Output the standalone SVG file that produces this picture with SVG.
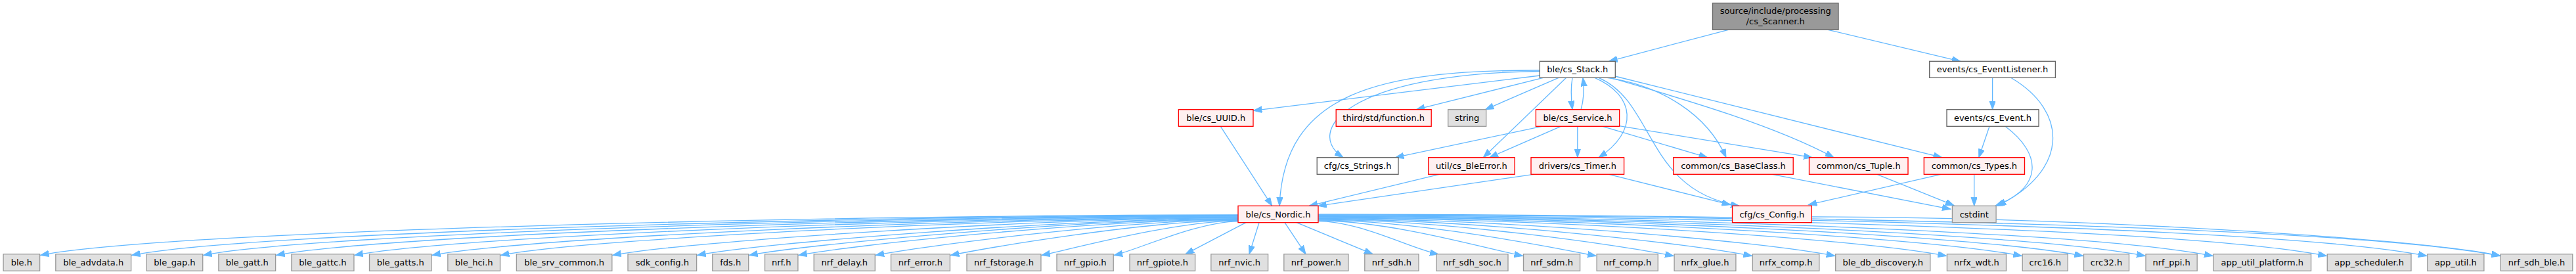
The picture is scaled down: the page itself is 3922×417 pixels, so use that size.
<svg xmlns="http://www.w3.org/2000/svg" width="3922" height="417" viewBox="0 0 3922 417">
<style>
rect{stroke-width:1.33}
.r{fill:#fff0f0;stroke:#ff0000}
.g{fill:#e0e0e0;stroke:#999999}
.w{fill:#ffffff;stroke:#666666}
.root{fill:#999999;stroke:#666666}
text{font-family:"DejaVu Sans","Liberation Sans",sans-serif;font-size:13px;fill:#000;text-anchor:middle}
#edges path{fill:none;stroke:#63b8ff;stroke-width:1.3;marker-end:url(#a)}
</style>
<defs>
<marker id="a" markerUnits="userSpaceOnUse" markerWidth="14" markerHeight="10" refX="13" refY="4.7" orient="auto"><path d="M0,0L13,4.7L0,9.4z" fill="#63b8ff" stroke="#63b8ff" stroke-width="1"/></marker>
</defs>
<rect width="3922" height="417" fill="#ffffff"/>
<g id="edges">
<path d="M2631.4,45.3L2449.6,93.3"/>
<path d="M2783.2,45.3L2984.7,93.3"/>
<path d="M2344.3,115L1908.3,168.3"/>
<path d="M2344.3,107C2100,107 1955,140 1948,313.3"/>
<path d="M2344.3,108.5C2050,112 1985,200 2045,239.7"/>
<path d="M2349.5,118.3L2156.3,166.7"/>
<path d="M2373,118.3L2261.5,166.7"/>
<path d="M2394,118.3C2391,135 2392,150 2394,166.7"/>
<path d="M2407,166.7C2412,150 2412,135 2410,118.3"/>
<path d="M2384.6,118.3L2258.3,239.7"/>
<path d="M2428,118.3C2490,145 2495,200 2434,239.7"/>
<path d="M2447,118.3C2530,130 2600,175 2628,239.7"/>
<path d="M2452,118.3C2560,150 2700,190 2792,239.7"/>
<path d="M2459,116L2956.6,239.7"/>
<path d="M2434,118.3C2520,155 2505,290 2648,313.3"/>
<path d="M2347.6,192.3L2124.4,239.7"/>
<path d="M2376.3,192.3L2267.9,239.7"/>
<path d="M2401.8,192.3L2401.8,239.7"/>
<path d="M2440,192.3L2599.5,239.7"/>
<path d="M2465.3,191.6L2759,239.7"/>
<path d="M1858.3,192.3L1936.7,313.3"/>
<path d="M2191.3,265.3L1993.3,313.3"/>
<path d="M2335,265.3L2006.7,313.3"/>
<path d="M2449.6,265.3L2634.6,311.7"/>
<path d="M2698.3,265.3L2970,318.3"/>
<path d="M2857.8,265.3L2975,312.7"/>
<path d="M2955,265.3L2753.3,311.7"/>
<path d="M3005.7,265.3L3005.7,313.3"/>
<path d="M3033.6,118.3L3033.6,166.7"/>
<path d="M3061.6,118.3C3150,170 3150,260 3041,313.3"/>
<path d="M3029,192.3L3012.8,239.7"/>
<path d="M3053,192.3C3110,235 3110,285 3038,313.3"/>
<path d="M2758.3,330C3125,330 3660.5,359.8 3806.3,389"/>
<path d="M1885,327C1301.5,327 253.9,350 61.5,388.5"/>
<path d="M1885,327.7C1346,327.7 379,352.8 200.5,388.5"/>
<path d="M1885,328.4C1380.9,328.4 477.1,355 309.6,388.5"/>
<path d="M1885,329.1C1416.4,329.1 577,357.2 420.5,388.5"/>
<path d="M1885,329.8C1454.5,329.8 684.3,359.6 539.8,388.5"/>
<path d="M1885,330.5C1492.3,330.5 790.5,362 657.8,388.5"/>
<path d="M1885,331.2C1525.8,331.2 884.7,364 762.4,388.5"/>
<path d="M1885,331.9C1580.3,331.9 1037.9,367.5 932.7,388.5"/>
<path d="M1885,332.6C1621.5,332.6 1153.9,370 1061.5,388.5"/>
<path d="M1885,333.3C1646.8,333.3 1225,371.6 1140.6,388.5"/>
<path d="M1885,334C1670.9,334 1292.7,373.1 1215.8,388.5"/>
<path d="M1885,334.7C1708.4,334.7 1398.4,375.5 1333.2,388.5"/>
<path d="M1885,335.4C1745,335.4 1501.1,377.7 1447.3,388.5"/>
<path d="M1885,336.1C1789.3,336.1 1625.7,380.5 1585.8,388.5"/>
<path d="M1885,336.8C1824.6,336.8 1725,382.7 1696.1,388.5"/>
<path d="M1897,338.7L1805,386.7"/>
<path d="M1917,338.7L1902,386.7"/>
<path d="M1956,338.7L1988,386.7"/>
<path d="M1974,338.7L2090,386.7"/>
<path d="M2007,336.7C2071,336.7 2148,378.6 2190,387"/>
<path d="M2007,335.8C2116,335.8 2261.1,378 2318.5,389.5"/>
<path d="M2007,335C2155,335 2359.2,375.3 2430,389.5"/>
<path d="M2007,334.2C2196.4,334.2 2463.1,372.5 2548,389.5"/>
<path d="M2007,333.4C2238.1,333.4 2568.2,369.7 2667.4,389.5"/>
<path d="M2007,332.6C2282.3,332.6 2679.3,366.6 2793.7,389.5"/>
<path d="M2007,331.8C2341.7,331.8 2828.6,362.5 2963.4,389.5"/>
<path d="M2007,331C2381.9,331 2929.7,359.8 3078.2,389.5"/>
<path d="M2007,330.2C2414.6,330.2 3011.8,357.6 3171.5,389.5"/>
<path d="M2007,329.4C2447.7,329.4 3094.9,355.3 3266,389.5"/>
<path d="M2007,328.6C2483.7,328.6 3185.6,352.8 3369,389.5"/>
<path d="M2007,327.8C2544.4,327.8 3338.1,348.7 3542.3,389.5"/>
<path d="M2007,327C2597.7,327 3472.3,345 3694.8,389.5"/>
<path d="M2007,326.2C2636.8,326.2 3570.4,342.3 3806.3,389.5"/>
</g>
<g id="n_scanner"><rect class="root" x="2607.5" y="4.7" width="191.5" height="40.6"/><text x="2703.2" y="21">source/include/processing</text><text x="2703.2" y="36.5">/cs_Scanner.h</text></g>
<g id="n_stack"><rect class="w" x="2344.3" y="93.3" width="115" height="25"/><text x="2401.8" y="110.3">ble/cs_Stack.h</text></g>
<g id="n_eventlistener"><rect class="w" x="2937.7" y="93.3" width="191.7" height="25"/><text x="3033.5" y="110.3">events/cs_EventListener.h</text></g>
<g id="n_uuid"><rect class="r" x="1794.4" y="166.7" width="113.6" height="25.6"/><text x="1851.2" y="184">ble/cs_UUID.h</text></g>
<g id="n_function"><rect class="r" x="2034.2" y="166.7" width="145" height="25.6"/><text x="2106.7" y="184">third/std/function.h</text></g>
<g id="n_string"><rect class="g" x="2204.7" y="166.7" width="58" height="25.6"/><text x="2233.7" y="184">string</text></g>
<g id="n_service"><rect class="r" x="2338.4" y="166.7" width="127.2" height="25.6"/><text x="2402" y="184">ble/cs_Service.h</text></g>
<g id="n_event"><rect class="w" x="2964" y="166.7" width="140" height="25.6"/><text x="3034" y="184">events/cs_Event.h</text></g>
<g id="n_strings"><rect class="w" x="2005.2" y="239.7" width="123.8" height="25.6"/><text x="2067.1" y="257">cfg/cs_Strings.h</text></g>
<g id="n_bleerror"><rect class="r" x="2174.7" y="239.7" width="131.4" height="25.6"/><text x="2240.4" y="257">util/cs_BleError.h</text></g>
<g id="n_timer"><rect class="r" x="2331" y="239.7" width="141.6" height="25.6"/><text x="2401.8" y="257">drivers/cs_Timer.h</text></g>
<g id="n_baseclass"><rect class="r" x="2547.8" y="239.7" width="182.4" height="25.6"/><text x="2639" y="257">common/cs_BaseClass.h</text></g>
<g id="n_tuple"><rect class="r" x="2754.5" y="239.7" width="150.5" height="25.6"/><text x="2829.75" y="257">common/cs_Tuple.h</text></g>
<g id="n_types"><rect class="r" x="2929.3" y="239.7" width="153.2" height="25.6"/><text x="3005.9" y="257">common/cs_Types.h</text></g>
<g id="n_nordic"><rect class="r" x="1885" y="313.3" width="122" height="25.4"/><text x="1946" y="330.5">ble/cs_Nordic.h</text></g>
<g id="n_config"><rect class="r" x="2637.5" y="313.3" width="120.8" height="25.4"/><text x="2697.9" y="330.5">cfg/cs_Config.h</text></g>
<g id="n_cstdint"><rect class="g" x="2972.4" y="313.3" width="66.7" height="25.4"/><text x="3005.75" y="330.5">cstdint</text></g>
<g id="n_ble"><rect class="g" x="5.1" y="386.7" width="55.5" height="25.6"/><text x="32.85" y="404">ble.h</text></g>
<g id="n_ble_advdata"><rect class="g" x="84.8" y="386.7" width="114.8" height="25.6"/><text x="142.2" y="404">ble_advdata.h</text></g>
<g id="n_ble_gap"><rect class="g" x="223.2" y="386.7" width="85.5" height="25.6"/><text x="265.95" y="404">ble_gap.h</text></g>
<g id="n_ble_gatt"><rect class="g" x="332.9" y="386.7" width="86.7" height="25.6"/><text x="376.25" y="404">ble_gatt.h</text></g>
<g id="n_ble_gattc"><rect class="g" x="443.9" y="386.7" width="95" height="25.6"/><text x="491.4" y="404">ble_gattc.h</text></g>
<g id="n_ble_gatts"><rect class="g" x="562.5" y="386.7" width="94.4" height="25.6"/><text x="609.7" y="404">ble_gatts.h</text></g>
<g id="n_ble_hci"><rect class="g" x="681.8" y="386.7" width="79.7" height="25.6"/><text x="721.65" y="404">ble_hci.h</text></g>
<g id="n_ble_srv_common"><rect class="g" x="786.4" y="386.7" width="145.4" height="25.6"/><text x="859.1" y="404">ble_srv_common.h</text></g>
<g id="n_sdk_config"><rect class="g" x="956" y="386.7" width="104.6" height="25.6"/><text x="1008.3" y="404">sdk_config.h</text></g>
<g id="n_fds"><rect class="g" x="1084.8" y="386.7" width="54.9" height="25.6"/><text x="1112.25" y="404">fds.h</text></g>
<g id="n_nrf"><rect class="g" x="1164.5" y="386.7" width="50.4" height="25.6"/><text x="1189.7" y="404">nrf.h</text></g>
<g id="n_nrf_delay"><rect class="g" x="1239.2" y="386.7" width="93.1" height="25.6"/><text x="1285.75" y="404">nrf_delay.h</text></g>
<g id="n_nrf_error"><rect class="g" x="1356.5" y="386.7" width="89.9" height="25.6"/><text x="1401.45" y="404">nrf_error.h</text></g>
<g id="n_nrf_fstorage"><rect class="g" x="1472" y="386.7" width="112.9" height="25.6"/><text x="1528.45" y="404">nrf_fstorage.h</text></g>
<g id="n_nrf_gpio"><rect class="g" x="1609" y="386.7" width="86.2" height="25.6"/><text x="1652.1" y="404">nrf_gpio.h</text></g>
<g id="n_nrf_gpiote"><rect class="g" x="1720" y="386.7" width="99.6" height="25.6"/><text x="1769.8" y="404">nrf_gpiote.h</text></g>
<g id="n_nrf_nvic"><rect class="g" x="1843.8" y="386.7" width="86.8" height="25.6"/><text x="1887.2" y="404">nrf_nvic.h</text></g>
<g id="n_nrf_power"><rect class="g" x="1954.8" y="386.7" width="98.1" height="25.6"/><text x="2003.85" y="404">nrf_power.h</text></g>
<g id="n_nrf_sdh"><rect class="g" x="2077.8" y="386.7" width="82.2" height="25.6"/><text x="2118.9" y="404">nrf_sdh.h</text></g>
<g id="n_nrf_sdh_soc"><rect class="g" x="2186.9" y="386.7" width="109.1" height="25.6"/><text x="2241.45" y="404">nrf_sdh_soc.h</text></g>
<g id="n_nrf_sdm"><rect class="g" x="2319.5" y="386.7" width="86.1" height="25.6"/><text x="2362.55" y="404">nrf_sdm.h</text></g>
<g id="n_nrf_comp"><rect class="g" x="2431.1" y="386.7" width="93.2" height="25.6"/><text x="2477.7" y="404">nrf_comp.h</text></g>
<g id="n_nrfx_glue"><rect class="g" x="2549.1" y="386.7" width="93.8" height="25.6"/><text x="2596" y="404">nrfx_glue.h</text></g>
<g id="n_nrfx_comp"><rect class="g" x="2668.4" y="386.7" width="101.4" height="25.6"/><text x="2719.1" y="404">nrfx_comp.h</text></g>
<g id="n_ble_db_discovery"><rect class="g" x="2794.7" y="386.7" width="144.1" height="25.6"/><text x="2866.75" y="404">ble_db_discovery.h</text></g>
<g id="n_nrfx_wdt"><rect class="g" x="2964.4" y="386.7" width="90.1" height="25.6"/><text x="3009.45" y="404">nrfx_wdt.h</text></g>
<g id="n_crc16"><rect class="g" x="3079.2" y="386.7" width="69.1" height="25.6"/><text x="3113.75" y="404">crc16.h</text></g>
<g id="n_crc32"><rect class="g" x="3172.5" y="386.7" width="69" height="25.6"/><text x="3207" y="404">crc32.h</text></g>
<g id="n_nrf_ppi"><rect class="g" x="3267" y="386.7" width="78.2" height="25.6"/><text x="3306.1" y="404">nrf_ppi.h</text></g>
<g id="n_app_util_platform"><rect class="g" x="3370" y="386.7" width="148.6" height="25.6"/><text x="3444.3" y="404">app_util_platform.h</text></g>
<g id="n_app_scheduler"><rect class="g" x="3543.3" y="386.7" width="127.7" height="25.6"/><text x="3607.15" y="404">app_scheduler.h</text></g>
<g id="n_app_util"><rect class="g" x="3695.8" y="386.7" width="86.1" height="25.6"/><text x="3738.85" y="404">app_util.h</text></g>
<g id="n_nrf_sdh_ble"><rect class="g" x="3807.3" y="386.7" width="109.5" height="25.6"/><text x="3862.05" y="404">nrf_sdh_ble.h</text></g>
</svg>
